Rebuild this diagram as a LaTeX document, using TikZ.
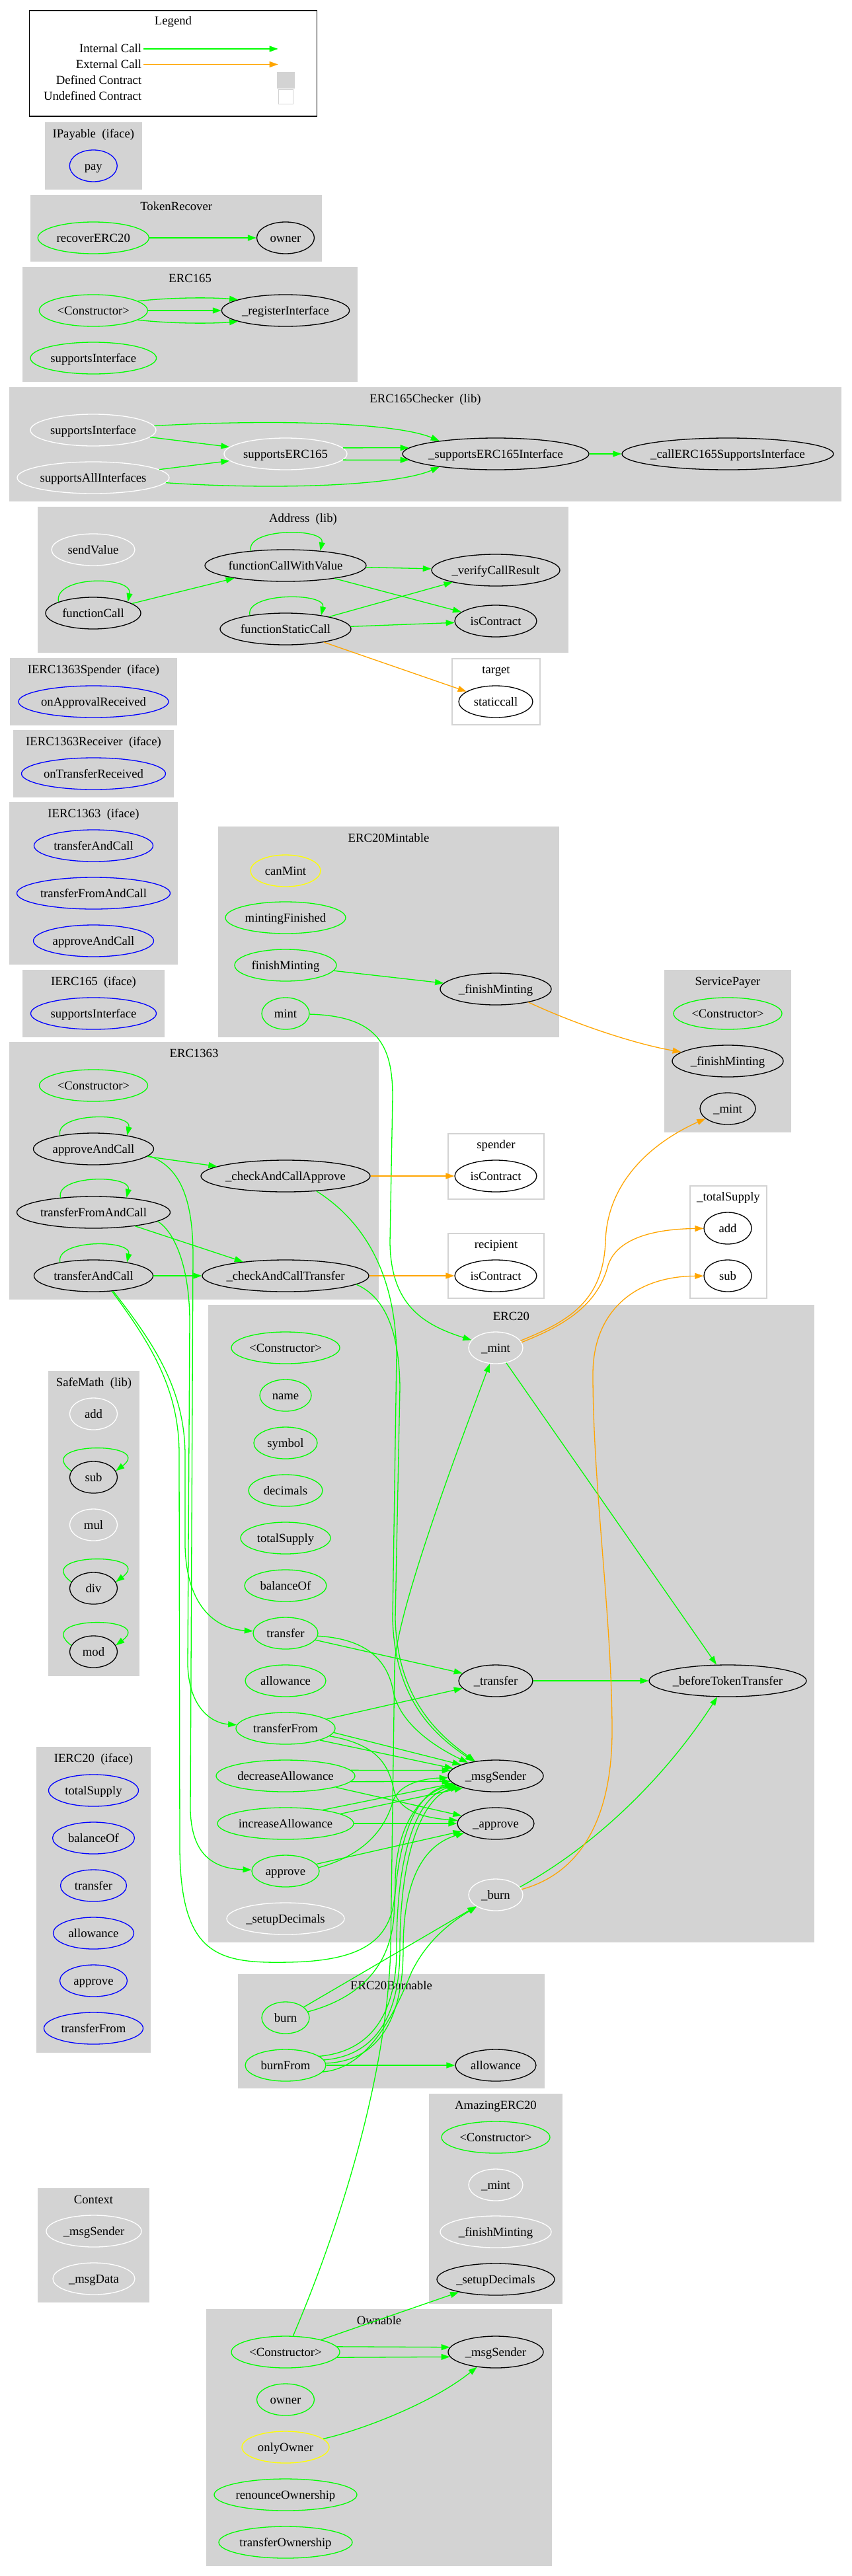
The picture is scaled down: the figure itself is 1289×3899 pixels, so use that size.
\documentclass[tikz,border=0pt]{standalone}
\usepackage{fontspec}
\setmainfont{Liberation Serif}
\usetikzlibrary{arrows.meta,shapes.geometric}
\definecolor{lg}{HTML}{D3D3D3}
\definecolor{cg}{HTML}{00FF00}
\definecolor{co}{HTML}{FFA500}
\definecolor{cb}{HTML}{0000FF}
\definecolor{cy}{HTML}{FFFF00}
\newcommand\fsz{\fontsize{18.7pt}{22pt}\selectfont}
\newcommand\ctor{\textless Constructor\textgreater}
\newcommand\clu[7]{%
  \path[#1] (#2,#3) rectangle (#4,#5);
  \node[ttl] (#6) at ({(#2+#4)/2},{#3+22}) {#7};}
\newcommand\lpb[3]{\draw[ic] (#1.#2) .. controls +(-8,-35) and +(8,-35) .. (#1.#3);}
\newcommand\lps[3]{\draw[ic] (#1.#2) .. controls +(-60,-45) and +(60,-45) .. (#1.#3);}
\tikzset{
  fn/.style={ellipse, draw, line width=1.3pt, minimum height=48pt, inner xsep=-10pt, inner ysep=0pt, text height=14.5pt, text depth=2.5pt},
  gn/.style={fn, draw=cg}, kn/.style={fn, draw=black}, wn/.style={fn, draw=white},
  bn/.style={fn, draw=cb}, yn/.style={fn, draw=cy},
  wd/.style={minimum width={2*#1pt}},
  ic/.style={draw=cg, line width=1.3pt, -{Triangle[length=13pt,width=9pt]}},
  ec/.style={draw=co, line width=1.3pt, -{Triangle[length=13pt,width=9pt]}},
  defc/.style={fill=lg, draw=lg, line width=1.3pt},
  undefc/.style={fill=white, draw=lg, line width=1.3pt},
  ttl/.style={anchor=base, inner sep=0pt},
  lgl/.style={anchor=east, inner sep=0pt, text height=14.5pt, text depth=2.5pt},
}
\begin{document}
\begin{tikzpicture}[x=1pt, y=-1pt, font=\fsz]
\useasboundingbox (0,0) rectangle (1289,3899);
% ---------------- clusters ----------------
\path[draw=black, line width=1.3pt] (44.4,16) rectangle (479.6,176);
\node[ttl] (lgT) at (262,38) {Legend};
\clu{defc}{68.8}{186}{213.9}{286}{tIP}{IPayable\ \ (iface)}
\clu{defc}{46.8}{296}{486.6}{395}{tTR}{TokenRecover}
\clu{defc}{34.8}{405}{540.5}{577}{tEv}{ERC165}
\clu{defc}{15}{587}{1272}{758}{tECK}{ERC165Checker\ \ (lib)}
\clu{defc}{58}{768}{859}{987}{tAdr}{Address\ \ (lib)}
\clu{undefc}{684}{997}{817}{1097}{tTg}{target}
\clu{defc}{16}{997}{267}{1097}{tISp}{IERC1363Spender\ \ (iface)}
\clu{defc}{21}{1106}{262}{1206}{tIRc}{IERC1363Receiver\ \ (iface)}
\clu{defc}{15}{1215}{268}{1459}{tIth}{IERC1363\ \ (iface)}
\clu{defc}{35}{1469}{248}{1569}{tIfv}{IERC165\ \ (iface)}
\clu{defc}{331}{1252}{845}{1569}{tMin}{ERC20Mintable}
\clu{defc}{1006}{1469}{1196}{1713}{tSP}{ServicePayer}
\clu{defc}{15}{1578}{572}{1966}{tEth}{ERC1363}
\clu{undefc}{678}{1716}{823}{1815}{tSpd}{spender}
\clu{undefc}{678}{1867}{823}{1965}{tRcp}{recipient}
\clu{undefc}{1044}{1795}{1160}{1965}{tTS}{\_totalSupply}
\clu{defc}{316}{1976}{1231}{2939}{tEtw}{ERC20}
\clu{defc}{74}{2076}{210}{2536}{tSM}{SafeMath\ \ (lib)}
\clu{defc}{55.5}{2645}{227.5}{3106}{tItw}{IERC20\ \ (iface)}
\clu{defc}{361}{2989}{823}{3160}{tBrn}{ERC20Burnable}
\clu{defc}{650}{3170}{850}{3486}{tAmz}{AmazingERC20}
\clu{defc}{58}{3313}{225}{3484}{tCtx}{Context}
\clu{defc}{313}{3496}{834}{3883}{tOwn}{Ownable}
% ---------------- legend ----------------
\node[lgl] (lgI) at (214.3,74) {Internal Call};
\node[lgl] (lgE) at (214.3,97.5) {External Call};
\node[lgl] (lgD) at (214.3,122) {Defined Contract};
\node[lgl] (lgU) at (214.3,146) {Undefined Contract};
\coordinate (lgIe) at (420.7,74);
\coordinate (lgEe) at (420.7,97.5);
\node[draw=lg, fill=lg, line width=1pt, minimum width=26pt, minimum height=23.5pt, inner sep=0pt] (lgDs) at (432.5,121.4) {};
\node[draw=lg, fill=white, line width=1pt, minimum width=22pt, minimum height=22pt, inner sep=0pt] (lgUs) at (432.5,146.6) {};
% ---------------- nodes ----------------
\node[bn,wd=36] (ipay) at (141.3,251) {pay};
\node[gn,wd=84] (trr) at (141.3,360) {recoverERC20};
\node[kn,wd=43.5] (tro) at (432,360) {owner};
\node[gn,wd=82] (evc) at (141.3,470) {\ctor};
\node[kn,wd=96.6] (evr) at (432,470) {\_registerInterface};
\node[gn,wd=95.3] (evs) at (141.3,542) {supportsInterface};
\node[wn,wd=95] (csi) at (141,651) {supportsInterface};
\node[wn,wd=115] (csa) at (141,723) {supportsAllInterfaces};
\node[wn,wd=93] (cse) at (432,687) {supportsERC165};
\node[kn,wd=141] (csei) at (750,687) {\_supportsERC165Interface};
\node[kn,wd=160] (ccall) at (1101,687) {\_callERC165SupportsInterface};
\node[wn,wd=63] (asv) at (141,832) {sendValue};
\node[kn,wd=122] (acwv) at (432,856) {functionCallWithValue};
\node[kn,wd=97] (avcr) at (750,863) {\_verifyCallResult};
\node[kn,wd=72] (afc) at (141,928) {functionCall};
\node[kn,wd=99] (asc) at (432,952) {functionStaticCall};
\node[kn,wd=62] (aic) at (750,940) {isContract};
\node[kn,wd=56] (tsc) at (750,1062) {staticcall};
\node[bn,wd=113.5] (isp) at (141.5,1062) {onApprovalReceived};
\node[bn,wd=109] (irc) at (141.5,1171) {onTransferReceived};
\node[bn,wd=90] (ita) at (141.5,1280) {transferAndCall};
\node[bn,wd=116] (itf) at (141.5,1352) {transferFromAndCall};
\node[bn,wd=91] (iaa) at (141.5,1424) {approveAndCall};
\node[bn,wd=95] (ifs) at (141.5,1534) {supportsInterface};
\node[yn,wd=53] (mcan) at (432,1318) {canMint};
\node[gn,wd=91] (mmf) at (432,1389) {mintingFinished};
\node[gn,wd=77] (mfm) at (432,1461) {finishMinting};
\node[gn,wd=36] (mmint) at (432,1534) {mint};
\node[kn,wd=84] (mfx) at (750,1497) {\_finishMinting};
\node[gn,wd=82] (spc) at (1101,1534) {\ctor};
\node[kn,wd=84] (spfm) at (1101,1606) {\_finishMinting};
\node[kn,wd=42] (spm) at (1101,1678) {\_mint};
\node[gn,wd=82] (ehc) at (141.5,1643) {\ctor};
\node[kn,wd=91] (eha) at (141.5,1739) {approveAndCall};
\node[kn,wd=116] (ehf) at (141.5,1835) {transferFromAndCall};
\node[kn,wd=90] (eht) at (141.5,1931) {transferAndCall};
\node[kn,wd=128] (ehca) at (432,1780) {\_checkAndCallApprove};
\node[kn,wd=126] (ehct) at (432,1931) {\_checkAndCallTransfer};
\node[kn,wd=62] (spic) at (750,1780) {isContract};
\node[kn,wd=62] (rcic) at (750,1931) {isContract};
\node[kn,wd=36] (tsa) at (1101,1859) {add};
\node[kn,wd=36] (tss) at (1101,1931) {sub};
\node[gn,wd=82] (ect) at (432,2040) {\ctor};
\node[gn,wd=39] (enm) at (432,2112) {name};
\node[gn,wd=48] (esy) at (432,2184) {symbol};
\node[gn,wd=56] (edc) at (432,2256) {decimals};
\node[gn,wd=68] (ets) at (432,2328) {totalSupply};
\node[gn,wd=62] (ebo) at (432,2400) {balanceOf};
\node[gn,wd=49] (etr) at (432,2472) {transfer};
\node[gn,wd=61] (eal) at (432,2544) {allowance};
\node[gn,wd=75] (etf) at (432,2616) {transferFrom};
\node[gn,wd=105] (eda) at (432,2688) {decreaseAllowance};
\node[gn,wd=103] (eia) at (432,2760) {increaseAllowance};
\node[gn,wd=51] (eap) at (432,2832) {approve};
\node[wn,wd=89] (esd) at (432,2904) {\_setupDecimals};
\node[wn,wd=41] (emi) at (750,2040) {\_mint};
\node[kn,wd=56] (etx) at (750,2544) {\_transfer};
\node[kn,wd=119] (ebt) at (1101,2544) {\_beforeTokenTransfer};
\node[kn,wd=72] (ems) at (750,2688) {\_msgSender};
\node[kn,wd=58] (eax) at (750,2760) {\_approve};
\node[wn,wd=41] (ebu) at (750,2868) {\_burn};
\node[wn,wd=36] (sadd) at (141.5,2140) {add};
\node[kn,wd=36] (ssub) at (141.5,2236) {sub};
\node[wn,wd=36] (smul) at (141.5,2308) {mul};
\node[kn,wd=36] (sdiv) at (141.5,2404) {div};
\node[kn,wd=36] (smod) at (141.5,2500) {mod};
\node[bn,wd=68] (its) at (141.5,2710) {totalSupply};
\node[bn,wd=62] (ibo) at (141.5,2782) {balanceOf};
\node[bn,wd=50] (itr) at (141.5,2854) {transfer};
\node[bn,wd=61] (ial) at (141.5,2926) {allowance};
\node[bn,wd=51] (iap) at (141.5,2998) {approve};
\node[bn,wd=75] (itfr) at (141.5,3070) {transferFrom};
\node[gn,wd=36] (bbu) at (432,3054) {burn};
\node[gn,wd=61] (bbf) at (432,3126) {burnFrom};
\node[kn,wd=61] (bal) at (750,3126) {allowance};
\node[gn,wd=82] (act) at (750,3235) {\ctor};
\node[wn,wd=41] (ami) at (750,3307) {\_mint};
\node[wn,wd=84] (afm) at (750,3378) {\_finishMinting};
\node[kn,wd=89] (asd) at (750,3450) {\_setupDecimals};
\node[wn,wd=72] (cms) at (142,3377) {\_msgSender};
\node[wn,wd=62] (cmd) at (142,3449) {\_msgData};
\node[gn,wd=82] (oct) at (432,3560) {\ctor};
\node[kn,wd=72] (oms) at (750,3560) {\_msgSender};
\node[gn,wd=43.5] (oow) at (432,3632) {owner};
\node[yn,wd=66] (ooo) at (432,3704) {onlyOwner};
\node[gn,wd=108] (orn) at (432,3776) {renounceOwnership};
\node[gn,wd=101] (otr) at (432,3848) {transferOwnership};
% ---------------- edges ----------------
\draw[ic] ([xshift=3pt]lgI.east) -- (lgIe);
\draw[ec] ([xshift=3pt]lgE.east) -- (lgEe);
\draw[ic] (trr) -- (tro);
\draw[ic] (evc.12) .. controls (260,450) and (320,450) .. (evr.167);
\draw[ic] (evc) -- (evr);
\draw[ic] (evc.348) .. controls (260,490) and (320,490) .. (evr.193);
% ERC165Checker
\draw[ic] (csi) -- (cse);
\draw[ic] (csa) -- (cse);
\draw[ic] (csi.4) .. controls (420,634) and (600,640) .. (csei.167);
\draw[ic] (csa.356) .. controls (420,742) and (600,735) .. (csei.193);
\draw[ic] (cse.6) -- (csei.176);
\draw[ic] (cse.354) -- (csei.184);
\draw[ic] (csei) -- (ccall);
% Address
\lpb{acwv}{157}{23}
\draw[ic] (afc.162) .. controls +(-8,-40) and +(8,-40) .. (afc.18);
\lpb{asc}{159}{21}
\draw[ic] (afc) -- (acwv);
\draw[ic] (acwv) -- (avcr);
\draw[ic] (acwv) -- (aic);
\draw[ic] (asc) -- (avcr);
\draw[ic] (asc) -- (aic);
\draw[ec] (asc) -- (tsc);
% ERC20Mintable / ServicePayer
\draw[ic] (mfm) -- (mfx);
\draw[ec] (mfx.338) .. controls (870,1550) and (960,1580) .. (spfm.169);
\draw[ic] (mmint) .. controls (570,1538) and (594,1580) .. (594,1660) -- (590,1880) .. controls (591,1975) and (640,2005) .. (emi);
% ERC1363
\lpb{eha}{158}{22}
\lpb{ehf}{156}{24}
\lpb{eht}{158}{22}
\draw[ic] (eha) -- (ehca);
\draw[ic] (ehf) -- (ehct);
\draw[ic] (eht) -- (ehct);
\draw[ec] (ehca) -- (spic);
\draw[ec] (ehct) -- (rcic);
\draw[ic] (eha.353) .. controls (270,1765) and (292,1810) .. (292,1900) -- (288,2740) .. controls (290,2805) and (320,2828) .. (eap);
\draw[ic] (ehf.352) .. controls (265,1865) and (287,1920) .. (287,2000) -- (284,2520) .. controls (286,2585) and (320,2608) .. (etf);
\draw[ic] (eht.322) .. controls (230,2030) and (279,2100) .. (280,2200) -- (280,2340) .. controls (282,2430) and (325,2465) .. (etr);
\draw[ic] (eht.320) .. controls (225,2030) and (271,2100) .. (271,2200) -- (272,2800) .. controls (274,2960) and (330,2972) .. (436,2970) .. controls (560,2968) and (598,2930) .. (598,2850) .. controls (598,2760) and (640,2712) .. (ems);
\draw[ic] (ehca.334) .. controls (545,1845) and (598,1920) .. (600,2050) -- (594,2450) .. controls (597,2570) and (655,2625) .. (ems);
\draw[ic] (ehct.353) .. controls (580,1962) and (604,2010) .. (605,2100) -- (598,2450) .. controls (601,2570) and (662,2625) .. (ems);
% ERC20
\draw[ic] (emi) -- (ebt);
\draw[ic] (etx) -- (ebt);
\draw[ic] (ebu.18) .. controls (890,2800) and (1000,2700) .. (ebt);
\draw[ec] (ebu.12) .. controls (880,2835) and (926,2750) .. (926,2620) .. controls (926,2450) and (897,2250) .. (897,2080) .. controls (897,1985) and (960,1932) .. (tss);
\draw[ec] (emi.16) .. controls (860,2000) and (912,1970) .. (916,1880) .. controls (918,1790) and (985,1730) .. (spm);
\draw[ec] (emi.12) .. controls (860,2004) and (905,1972) .. (920,1915) .. controls (935,1870) and (1000,1860) .. (tsa);
\draw[ic] (etr) -- (etx);
\draw[ic] (etr.355) .. controls (545,2480) and (585,2505) .. (595,2560) .. controls (605,2610) and (660,2645) .. (ems);
\draw[ic] (etf) -- (etx);
\draw[ic] (etf.355) -- (ems.162);
\draw[ic] (etf.341) -- (ems.170);
\draw[ic] (etf.350) .. controls (570,2640) and (588,2670) .. (596,2710) .. controls (605,2745) and (650,2752) .. (eax);
\draw[ic] (eda.5) -- (ems.173);
\draw[ic] (eda.355) -- (ems.187);
\draw[ic] (eda) -- (eax);
\draw[ic] (eia) -- (eax);
\draw[ic] (eia.20) -- (ems.190);
\draw[ic] (eia.10) -- (ems.200);
\draw[ic] (eap) -- (eax);
\draw[ic] (eap.6) .. controls (560,2805) and (585,2760) .. (595,2725) .. controls (605,2700) and (640,2692) .. (ems);
% SafeMath
\lps{ssub}{164}{16}
\lps{sdiv}{164}{16}
\lps{smod}{164}{16}
% ERC20Burnable
\draw[ic] (bbu) -- (ebu);
\draw[ic] (bbu.15) .. controls (540,3025) and (590,2980) .. (596,2900) .. controls (600,2780) and (630,2712) .. (ems);
\draw[ic] (bbf.350) .. controls (560,3130) and (600,3040) .. (623,2984) .. controls (650,2930) and (690,2905) .. (ebu);
\draw[ic] (bbf.15) .. controls (560,3105) and (600,3050) .. (600,2950) .. controls (600,2780) and (640,2715) .. (ems);
\draw[ic] (bbf.8) .. controls (565,3112) and (605,3055) .. (605,2950) .. controls (605,2790) and (645,2718) .. (ems);
\draw[ic] (bbf.3) .. controls (570,3120) and (610,3060) .. (610,2950) .. controls (610,2830) and (650,2790) .. (eax);
\draw[ic] (bbf) -- (bal);
% Ownable
\draw[ic] (oct.6) -- (oms.174);
\draw[ic] (oct.354) -- (oms.186);
\draw[ic] (oct) -- (asd);
\draw[ic] (oct.65) .. controls (510,3380) and (585,3150) .. (591,2950) -- (597,2520) .. controls (600,2440) and (690,2200) .. (emi);
\draw[ic] (ooo) .. controls (540,3680) and (650,3640) .. (oms);
\end{tikzpicture}
\end{document}
